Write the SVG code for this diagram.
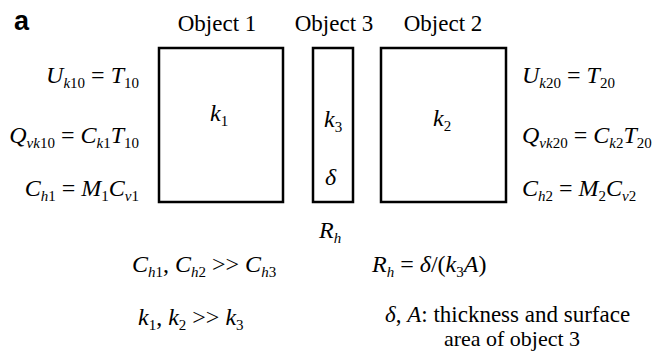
<svg xmlns="http://www.w3.org/2000/svg" width="663" height="363" viewBox="0 0 663 363">
<style>
.lbl{font-family:"Liberation Serif","Times New Roman",serif;font-size:23px;fill:#000}
.m{font-family:"Liberation Serif","Times New Roman",serif;font-size:24px;font-style:italic;fill:#000}
.s{font-size:15px}
.r{font-style:normal}
.box{fill:#fff;stroke:#000;stroke-width:2.5}
</style>
<rect width="663" height="363" fill="#fff"/>
<text x="14" y="30" font-family="Liberation Sans, Arial, sans-serif" font-weight="bold" font-size="27">a</text>
<g id="object1">
<text class="lbl" x="217" y="31" text-anchor="middle">Object 1</text>
<rect class="box" x="159" y="48" width="124" height="154"/>
<text class="m" x="210" y="121">k<tspan class="s r" dy="5">1</tspan></text>
</g>
<g id="object3">
<text class="lbl" x="334" y="31" text-anchor="middle">Object 3</text>
<rect class="box" x="313" y="48" width="40" height="154"/>
<text class="m" x="324" y="127">k<tspan class="s r" dy="5">3</tspan></text>
<text class="m" x="325" y="185">δ</text>
<text class="m" x="319" y="238">R<tspan class="s" dy="5">h</tspan></text>
</g>
<g id="object2">
<text class="lbl" x="443" y="31" text-anchor="middle">Object 2</text>
<rect class="box" x="381" y="48" width="125" height="154"/>
<text class="m" x="433" y="126">k<tspan class="s r" dy="5">2</tspan></text>
</g>
<g id="left-eq">
<text class="m" x="139" y="83" text-anchor="end">U<tspan class="s" dy="5">k</tspan><tspan class="s r">10</tspan><tspan class="r" dy="-5"> = </tspan>T<tspan class="s r" dy="5">10</tspan></text>
<text class="m" x="139" y="143" text-anchor="end">Q<tspan class="s" dy="5">vk</tspan><tspan class="s r">10</tspan><tspan class="r" dy="-5"> = </tspan>C<tspan class="s" dy="5">k</tspan><tspan class="s r">1</tspan><tspan dy="-5">T</tspan><tspan class="s r" dy="5">10</tspan></text>
<text class="m" x="139" y="196" text-anchor="end">C<tspan class="s" dy="5">h</tspan><tspan class="s r">1</tspan><tspan class="r" dy="-5"> = </tspan>M<tspan class="s r" dy="5">1</tspan><tspan dy="-5">C</tspan><tspan class="s" dy="5">v</tspan><tspan class="s r">1</tspan></text>
</g>
<g id="right-eq">
<text class="m" x="522" y="83">U<tspan class="s" dy="5">k</tspan><tspan class="s r">20</tspan><tspan class="r" dy="-5"> = </tspan>T<tspan class="s r" dy="5">20</tspan></text>
<text class="m" x="522" y="143">Q<tspan class="s" dy="5">vk</tspan><tspan class="s r">20</tspan><tspan class="r" dy="-5"> = </tspan>C<tspan class="s" dy="5">k</tspan><tspan class="s r">2</tspan><tspan dy="-5">T</tspan><tspan class="s r" dy="5">20</tspan></text>
<text class="m" x="522" y="196">C<tspan class="s" dy="5">h</tspan><tspan class="s r">2</tspan><tspan class="r" dy="-5"> = </tspan>M<tspan class="s r" dy="5">2</tspan><tspan dy="-5">C</tspan><tspan class="s" dy="5">v</tspan><tspan class="s r">2</tspan></text>
</g>
<g id="notes">
<text class="m" x="132" y="272">C<tspan class="s" dy="5">h</tspan><tspan class="s r">1</tspan><tspan class="r" dy="-5">, </tspan>C<tspan class="s" dy="5">h</tspan><tspan class="s r">2</tspan><tspan class="r" dy="-5"> &gt;&gt; </tspan>C<tspan class="s" dy="5">h</tspan><tspan class="s r">3</tspan></text>
<text class="m" x="372" y="272">R<tspan class="s" dy="5">h</tspan><tspan class="r" dy="-5"> = </tspan>δ<tspan class="r">/(</tspan>k<tspan class="s r" dy="5">3</tspan><tspan dy="-5">A</tspan><tspan class="r">)</tspan></text>
<text class="m" x="138" y="325">k<tspan class="s r" dy="5">1</tspan><tspan class="r" dy="-5">, </tspan>k<tspan class="s r" dy="5">2</tspan><tspan class="r" dy="-5"> &gt;&gt; </tspan>k<tspan class="s r" dy="5">3</tspan></text>
<text class="m" x="385" y="322" style="font-size:23px">δ<tspan class="r">, </tspan>A<tspan class="r">: thickness and surface</tspan></text>
<text class="lbl" x="512" y="346" text-anchor="middle" style="font-size:22px">area of object 3</text>
</g>
</svg>
